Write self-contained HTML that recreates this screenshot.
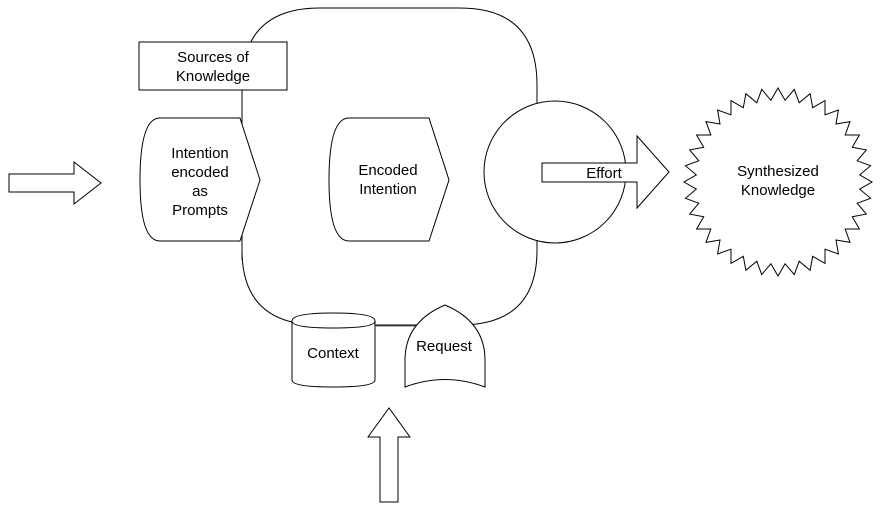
<!DOCTYPE html>
<html><head><meta charset="utf-8"><style>
html,body{margin:0;padding:0;background:#fff;}
svg{display:block;font-family:"Liberation Sans",Arial,sans-serif;font-size:15px;}
</style></head><body>
<svg id="s" width="881" height="511" viewBox="0 0 881 511" xmlns="http://www.w3.org/2000/svg">
<g fill="none" stroke="#000" stroke-width="1">
<path d="M320,8 L460,8 Q537,8 537,85 L537,250 Q537,325 460,325 L320,325 Q242,325 242,250 L242,85 Q242,8 320,8 Z"/>
</g>
<g fill="#fff" stroke="#000" stroke-width="1">
<rect x="139" y="42" width="148" height="48"/>
<line x1="242" y1="90" x2="242" y2="128" fill="none"/>
<path d="M160,118 L240,118 L260,180 L240,241 L160,241 Q140,241 140,180 Q140,118 160,118 Z"/>
<path d="M349,118 L429,118 L449,180 L429,241 L349,241 Q329,241 329,180 Q329,118 349,118 Z"/>
<line x1="242" y1="241" x2="242" y2="260" fill="none"/>
<circle cx="555" cy="172" r="71"/>
<path d="M542,163 L637,163 L637,136 L669,172 L637,208 L637,182 L542,182 Z"/>
<path d="M9,174 L74,174 L74,162 L101,183 L74,204 L74,192 L9,192 Z"/>
<path d="M380,502 L380,437 L368,437 L389,408 L410,437 L398,437 L398,502 Z"/>
<path d="M292,321 Q292,313 333,313 Q375,313 375,321 L375,380 Q375,387 333,387 Q292,387 292,380 Z"/>
<path d="M292,321 Q292,328 333,328 Q375,328 375,321" fill="none"/>
<line x1="375" y1="326" x2="420" y2="326" stroke="#666"/>
<path d="M405,387 L405,360 Q405,322 445,305 Q485,322 485,360 L485,387 Q445,372 405,387 Z"/>
<polygon id="star" points=""/>
</g>
<g fill="#000" text-anchor="middle">
<text x="213" y="62">Sources of</text><text x="213" y="81">Knowledge</text>
<text x="200" y="158">Intention</text><text x="200" y="177">encoded</text><text x="200" y="196">as</text><text x="200" y="215">Prompts</text>
<text x="388" y="175">Encoded</text><text x="388" y="194">Intention</text>
<text x="604" y="178">Effort</text>
<text x="778" y="176">Synthesized</text><text x="778" y="195">Knowledge</text>
<text x="333" y="358">Context</text>
<text x="444" y="351">Request</text>
</g>
</svg>
<script>
var p=[],n=36,cx=778,cy=182;
for(var i=0;i<2*n;i++){var a=Math.PI*i/n-Math.PI/2,r=i%2?82:94;p.push((cx+r*Math.cos(a)).toFixed(1)+","+(cy+r*Math.sin(a)).toFixed(1));}
document.getElementById("star").setAttribute("points",p.join(" "));
</script>
</body></html>
